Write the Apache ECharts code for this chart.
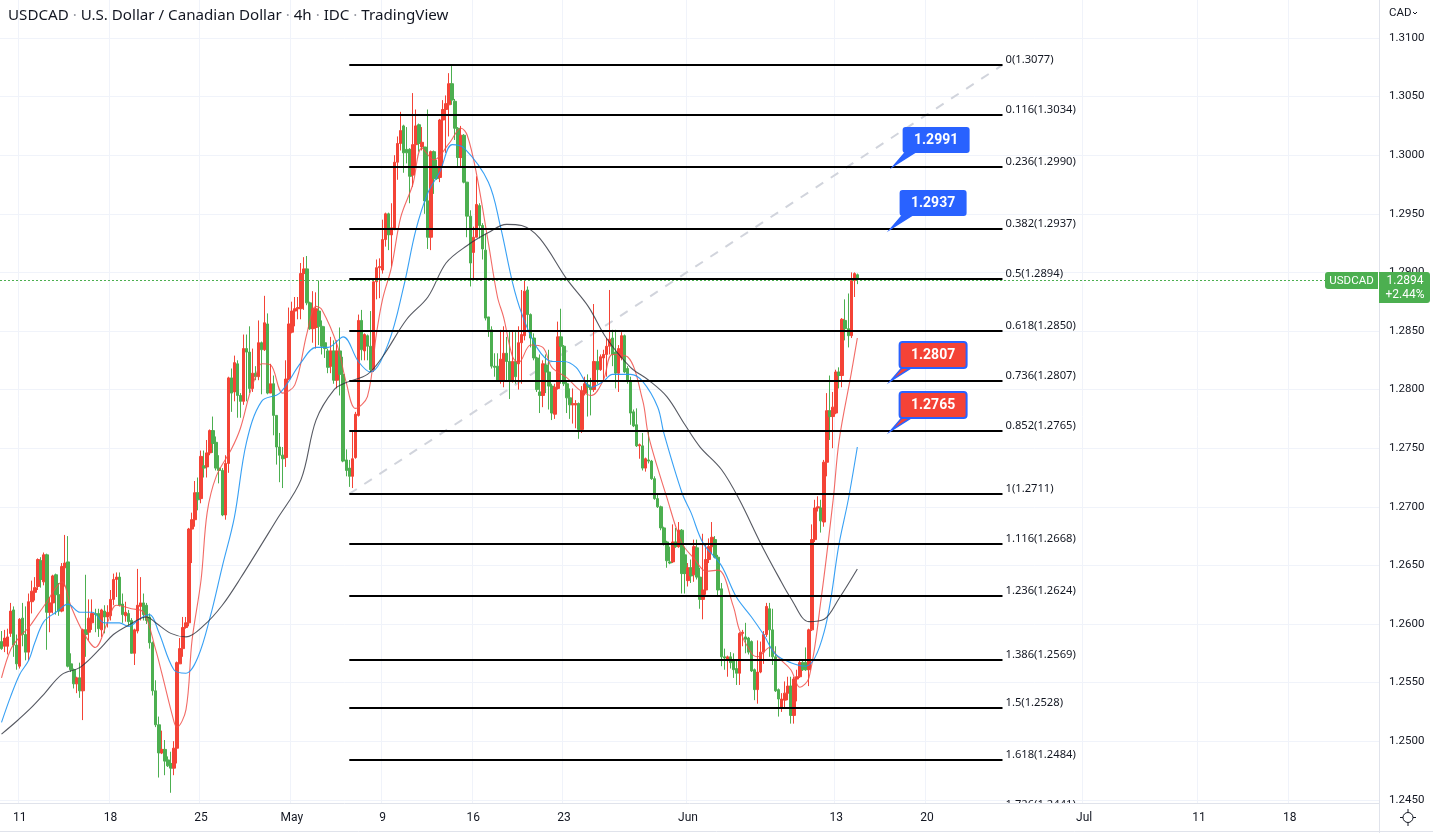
<!DOCTYPE html>
<html><head><meta charset="utf-8">
<style>html,body{margin:0;padding:0;background:#fff}#c{width:1433px;height:833px}</style>
<script src="https://cdn.jsdelivr.net/npm/echarts@6/dist/echarts.min.js"></script>
</head><body><div id="c"></div>
<script>
const opens=[1.2585,1.2581,1.2581,1.2592,1.2612,1.2582,1.2564,1.2605,1.2591,1.2576,
1.2619,1.2627,1.2632,1.2654,1.2636,1.2659,1.2610,1.2618,1.2642,1.2625,
1.2611,1.2648,1.2653,1.2566,1.2561,1.2549,1.2554,1.2543,1.2595,1.2593,
1.2601,1.2609,1.2609,1.2595,1.2611,1.2606,1.2607,1.2621,1.2638,1.2640,
1.2617,1.2607,1.2609,1.2603,1.2575,1.2594,1.2615,1.2618,1.2616,1.2606,
1.2584,1.2543,1.2514,1.2490,1.2493,1.2484,1.2481,1.2477,1.2494,1.2566,
1.2579,1.2597,1.2601,1.2681,1.2689,1.2712,1.2707,1.2735,1.2734,1.2746,
1.2765,1.2755,1.2733,1.2731,1.2693,1.2737,1.2810,1.2798,1.2822,1.2795,
1.2790,1.2835,1.2832,1.2801,1.2814,1.2811,1.2840,1.2834,1.2856,1.2797,
1.2805,1.2778,1.2751,1.2744,1.2742,1.2809,1.2849,1.2867,1.2869,1.2869,
1.2899,1.2903,1.2874,1.2852,1.2853,1.2867,1.2854,1.2840,1.2833,1.2820,
1.2833,1.2808,1.2833,1.2813,1.2740,1.2733,1.2726,1.2742,1.2778,1.2859,
1.2833,1.2846,1.2837,1.2817,1.2892,1.2904,1.2902,1.2928,1.2950,1.2932,
1.2937,1.2994,1.3010,1.3025,1.3005,1.3005,1.2983,1.3009,1.3026,1.3007,
1.3007,1.2961,1.2930,1.3003,1.2989,1.2981,1.3030,1.3039,1.3043,1.3061,
1.3046,1.3023,1.2998,1.3017,1.2977,1.2948,1.2917,1.2930,1.2957,1.2940,
1.2919,1.2862,1.2851,1.2820,1.2820,1.2807,1.2808,1.2831,1.2824,1.2807,
1.2824,1.2822,1.2840,1.2846,1.2885,1.2864,1.2844,1.2827,1.2798,1.2795,
1.2821,1.2815,1.2803,1.2779,1.2801,1.2845,1.2837,1.2805,1.2793,1.2787,
1.2787,1.2788,1.2766,1.2797,1.2804,1.2802,1.2800,1.2824,1.2817,1.2827,
1.2830,1.2837,1.2844,1.2832,1.2814,1.2827,1.2846,1.2818,1.2807,1.2781,
1.2770,1.2752,1.2752,1.2733,1.2740,1.2739,1.2724,1.2707,1.2700,1.2682,
1.2670,1.2653,1.2653,1.2670,1.2666,1.2680,1.2659,1.2637,1.2648,1.2642,
1.2665,1.2640,1.2621,1.2629,1.2655,1.2666,1.2672,1.2657,1.2630,1.2572,
1.2569,1.2572,1.2569,1.2562,1.2558,1.2592,1.2589,1.2588,1.2585,1.2561,
1.2544,1.2559,1.2576,1.2591,1.2613,1.2595,1.2572,1.2544,1.2528,1.2535,
1.2541,1.2547,1.2522,1.2553,1.2555,1.2567,1.2567,1.2561,1.2595,1.2672,
1.2699,1.2699,1.2687,1.2738,1.2782,1.2777,1.2780,1.2815,1.2812,1.2859,
1.2852,1.2846,1.2893,1.2898];
const closes=[1.2579,1.2588,1.2589,1.2611,1.2582,1.2566,1.2604,1.2591,1.2576,1.2619,
1.2628,1.2631,1.2655,1.2638,1.2659,1.2610,1.2618,1.2641,1.2625,1.2611,
1.2649,1.2652,1.2564,1.2561,1.2549,1.2554,1.2543,1.2595,1.2591,1.2605,
1.2609,1.2608,1.2596,1.2612,1.2606,1.2610,1.2621,1.2638,1.2640,1.2616,
1.2608,1.2610,1.2602,1.2575,1.2595,1.2616,1.2618,1.2608,1.2603,1.2584,
1.2543,1.2514,1.2490,1.2493,1.2483,1.2479,1.2477,1.2494,1.2567,1.2579,
1.2597,1.2601,1.2681,1.2689,1.2712,1.2706,1.2743,1.2733,1.2746,1.2765,
1.2754,1.2733,1.2731,1.2693,1.2737,1.2810,1.2797,1.2823,1.2795,1.2790,
1.2835,1.2832,1.2801,1.2814,1.2811,1.2840,1.2834,1.2857,1.2797,1.2805,
1.2778,1.2751,1.2744,1.2741,1.2809,1.2856,1.2867,1.2869,1.2870,1.2899,
1.2903,1.2874,1.2852,1.2869,1.2869,1.2854,1.2837,1.2835,1.2819,1.2833,
1.2808,1.2833,1.2813,1.2739,1.2731,1.2726,1.2741,1.2779,1.2859,1.2834,
1.2847,1.2837,1.2817,1.2892,1.2904,1.2905,1.2928,1.2950,1.2932,1.2938,
1.2994,1.3010,1.3021,1.3002,1.3002,1.2982,1.3009,1.3025,1.3010,1.3011,
1.2961,1.2930,1.3003,1.2980,1.2980,1.3030,1.3039,1.3044,1.3061,1.3047,
1.3023,1.2998,1.3017,1.2977,1.2948,1.2908,1.2930,1.2958,1.2940,1.2920,
1.2861,1.2851,1.2820,1.2819,1.2807,1.2826,1.2831,1.2824,1.2807,1.2824,
1.2811,1.2840,1.2847,1.2884,1.2864,1.2844,1.2827,1.2800,1.2795,1.2822,
1.2815,1.2803,1.2780,1.2802,1.2845,1.2837,1.2805,1.2793,1.2787,1.2788,
1.2788,1.2766,1.2799,1.2805,1.2802,1.2800,1.2824,1.2817,1.2828,1.2830,
1.2837,1.2843,1.2830,1.2814,1.2835,1.2846,1.2815,1.2807,1.2780,1.2769,
1.2752,1.2753,1.2733,1.2741,1.2739,1.2724,1.2707,1.2700,1.2682,1.2669,
1.2654,1.2652,1.2670,1.2666,1.2680,1.2643,1.2643,1.2648,1.2641,1.2666,
1.2640,1.2621,1.2629,1.2655,1.2666,1.2674,1.2657,1.2629,1.2572,1.2571,
1.2572,1.2567,1.2561,1.2558,1.2592,1.2593,1.2587,1.2576,1.2560,1.2544,
1.2559,1.2576,1.2591,1.2615,1.2595,1.2572,1.2543,1.2536,1.2536,1.2541,
1.2547,1.2522,1.2553,1.2555,1.2567,1.2561,1.2561,1.2595,1.2672,1.2699,
1.2700,1.2688,1.2738,1.2782,1.2777,1.2785,1.2815,1.2812,1.2860,1.2852,
1.2846,1.2893,1.2899,1.2894];
const lows=[1.2578,1.2576,1.2574,1.2589,1.2572,1.2561,1.2562,1.2581,1.2569,1.2569,
1.2609,1.2620,1.2629,1.2631,1.2633,1.2578,1.2593,1.2609,1.2608,1.2607,
1.2610,1.2632,1.2563,1.2559,1.2545,1.2541,1.2537,1.2518,1.2572,1.2586,
1.2595,1.2593,1.2589,1.2589,1.2592,1.2597,1.2603,1.2616,1.2623,1.2615,
1.2601,1.2602,1.2599,1.2575,1.2565,1.2592,1.2603,1.2603,1.2600,1.2579,
1.2539,1.2512,1.2469,1.2489,1.2471,1.2478,1.2456,1.2471,1.2481,1.2566,
1.2572,1.2596,1.2598,1.2652,1.2683,1.2697,1.2703,1.2725,1.2725,1.2744,
1.2746,1.2731,1.2720,1.2692,1.2689,1.2729,1.2781,1.2790,1.2776,1.2776,
1.2787,1.2790,1.2797,1.2798,1.2808,1.2808,1.2796,1.2833,1.2796,1.2797,
1.2761,1.2736,1.2721,1.2716,1.2734,1.2808,1.2848,1.2854,1.2860,1.2860,
1.2868,1.2872,1.2851,1.2840,1.2835,1.2838,1.2830,1.2827,1.2814,1.2814,
1.2805,1.2801,1.2795,1.2738,1.2726,1.2717,1.2716,1.2741,1.2777,1.2825,
1.2825,1.2825,1.2815,1.2815,1.2877,1.2878,1.2899,1.2922,1.2919,1.2905,
1.2936,1.2979,1.3004,1.2985,1.2993,1.2959,1.2973,1.2990,1.3003,1.3004,
1.2950,1.2920,1.2919,1.2967,1.2979,1.2977,1.2990,1.3002,1.3016,1.3043,
1.3013,1.2990,1.2990,1.2976,1.2930,1.2888,1.2893,1.2930,1.2929,1.2911,
1.2859,1.2845,1.2818,1.2811,1.2807,1.2805,1.2802,1.2807,1.2792,1.2806,
1.2805,1.2800,1.2805,1.2842,1.2851,1.2836,1.2825,1.2798,1.2780,1.2785,
1.2797,1.2783,1.2774,1.2775,1.2800,1.2805,1.2803,1.2780,1.2775,1.2771,
1.2767,1.2758,1.2763,1.2795,1.2777,1.2778,1.2798,1.2805,1.2816,1.2808,
1.2811,1.2830,1.2820,1.2801,1.2798,1.2825,1.2814,1.2805,1.2770,1.2768,
1.2751,1.2741,1.2731,1.2730,1.2737,1.2723,1.2706,1.2699,1.2680,1.2667,
1.2648,1.2651,1.2652,1.2665,1.2665,1.2626,1.2626,1.2632,1.2635,1.2636,
1.2638,1.2613,1.2604,1.2625,1.2652,1.2660,1.2656,1.2623,1.2564,1.2561,
1.2555,1.2562,1.2554,1.2548,1.2548,1.2581,1.2575,1.2574,1.2559,1.2535,
1.2532,1.2558,1.2566,1.2589,1.2572,1.2565,1.2542,1.2521,1.2525,1.2528,
1.2535,1.2515,1.2515,1.2534,1.2554,1.2560,1.2560,1.2547,1.2594,1.2670,
1.2696,1.2678,1.2683,1.2726,1.2757,1.2750,1.2779,1.2801,1.2802,1.2842,
1.2836,1.2844,1.2879,1.2890];
const highs=[1.2594,1.2595,1.2596,1.2618,1.2615,1.2591,1.2605,1.2618,1.2615,1.2626,
1.2637,1.2640,1.2656,1.2657,1.2661,1.2660,1.2623,1.2642,1.2643,1.2635,
1.2652,1.2676,1.2675,1.2575,1.2562,1.2555,1.2567,1.2596,1.2642,1.2621,
1.2621,1.2613,1.2613,1.2613,1.2616,1.2616,1.2629,1.2643,1.2644,1.2644,
1.2626,1.2619,1.2612,1.2605,1.2596,1.2647,1.2640,1.2626,1.2618,1.2609,
1.2585,1.2552,1.2521,1.2509,1.2501,1.2487,1.2491,1.2500,1.2568,1.2588,
1.2606,1.2606,1.2682,1.2695,1.2722,1.2725,1.2748,1.2748,1.2757,1.2766,
1.2777,1.2760,1.2744,1.2733,1.2744,1.2811,1.2818,1.2829,1.2825,1.2797,
1.2847,1.2847,1.2854,1.2835,1.2820,1.2859,1.2841,1.2880,1.2865,1.2822,
1.2812,1.2778,1.2763,1.2751,1.2825,1.2870,1.2875,1.2879,1.2879,1.2908,
1.2913,1.2914,1.2875,1.2884,1.2883,1.2893,1.2859,1.2854,1.2835,1.2845,
1.2842,1.2842,1.2853,1.2828,1.2749,1.2740,1.2764,1.2781,1.2864,1.2868,
1.2848,1.2847,1.2867,1.2895,1.2911,1.2912,1.2945,1.2951,1.2951,1.2959,
1.3000,1.3016,1.3037,1.3026,1.3024,1.3006,1.3053,1.3039,1.3027,1.3024,
1.3007,1.3039,1.3004,1.3004,1.2996,1.3031,1.3047,1.3051,1.3070,1.3077,
1.3048,1.3024,1.3025,1.3018,1.2977,1.2953,1.2939,1.2982,1.2959,1.2942,
1.2933,1.2862,1.2854,1.2831,1.2831,1.2851,1.2854,1.2845,1.2850,1.2850,
1.2849,1.2854,1.2885,1.2895,1.2888,1.2865,1.2848,1.2828,1.2830,1.2825,
1.2830,1.2834,1.2805,1.2805,1.2858,1.2869,1.2838,1.2808,1.2801,1.2801,
1.2791,1.2789,1.2803,1.2811,1.2813,1.2810,1.2873,1.2834,1.2830,1.2834,
1.2844,1.2885,1.2851,1.2851,1.2838,1.2849,1.2847,1.2820,1.2811,1.2783,
1.2784,1.2754,1.2763,1.2742,1.2765,1.2740,1.2726,1.2711,1.2701,1.2683,
1.2671,1.2666,1.2685,1.2682,1.2687,1.2681,1.2666,1.2652,1.2655,1.2672,
1.2672,1.2648,1.2677,1.2669,1.2673,1.2687,1.2675,1.2659,1.2635,1.2579,
1.2573,1.2576,1.2575,1.2569,1.2593,1.2595,1.2601,1.2589,1.2586,1.2562,
1.2586,1.2585,1.2594,1.2618,1.2618,1.2613,1.2581,1.2545,1.2541,1.2551,
1.2555,1.2555,1.2555,1.2561,1.2569,1.2569,1.2580,1.2596,1.2685,1.2706,
1.2709,1.2706,1.2740,1.2797,1.2812,1.2798,1.2817,1.2819,1.2861,1.2877,
1.2882,1.2900,1.2900,1.2899];

const redBars=[0,3,6,9,12,15,18,20,23,27,31,35,38,43,47,51,53,57,58,61,63,66,68,71,76,79,82,84,86,89,93,97,101,104,106,111,114,117,121,124,126,129,132,136,139,143,148,152,154,157,161,164,166,169,171,175,179,182,187,191,195,199,202,207,212,214,220,225,229,233,237,242,244,248,250,254,257,261,264,267,271,275,277,281,283];
const redValues=[1.2554,1.2578,1.2589,1.2597,1.2608,1.2619,1.2631,1.2636,1.2615,1.2593,1.2580,1.2601,1.2616,1.2613,1.2610,1.2578,1.2558,1.2517,1.2512,1.2527,1.2586,1.2638,1.2695,1.2726,1.2749,1.2767,1.2796,1.2811,1.2822,1.2821,1.2797,1.2804,1.2848,1.2871,1.2868,1.2838,1.2806,1.2784,1.2794,1.2848,1.2877,1.2905,1.2947,1.2975,1.3006,1.2996,1.3010,1.3023,1.3017,1.2985,1.2925,1.2879,1.2862,1.2828,1.2823,1.2838,1.2836,1.2819,1.2810,1.2800,1.2795,1.2808,1.2830,1.2828,1.2791,1.2760,1.2708,1.2669,1.2656,1.2645,1.2646,1.2615,1.2595,1.2575,1.2572,1.2580,1.2571,1.2561,1.2546,1.2554,1.2621,1.2706,1.2757,1.2814,1.2844];
const blueBars=[0,3,6,9,11,14,18,22,26,30,34,39,42,46,49,52,57,61,65,69,73,77,81,86,92,99,104,108,113,118,122,128,133,137,141,145,149,153,161,165,169,172,177,182,186,190,195,199,202,208,212,217,219,225,228,232,238,243,248,252,256,261,266,272,277,280,283];
const blueValues=[1.2516,1.2538,1.2557,1.2569,1.2584,1.2602,1.2610,1.2617,1.2610,1.2610,1.2601,1.2601,1.2598,1.2605,1.2608,1.2593,1.2561,1.2558,1.2572,1.2606,1.2649,1.2691,1.2755,1.2790,1.2797,1.2823,1.2836,1.2836,1.2845,1.2824,1.2815,1.2840,1.2888,1.2936,1.2968,1.2986,1.3009,1.3006,1.2977,1.2939,1.2891,1.2865,1.2836,1.2824,1.2824,1.2819,1.2802,1.2807,1.2813,1.2813,1.2807,1.2785,1.2763,1.2712,1.2695,1.2669,1.2650,1.2623,1.2606,1.2591,1.2574,1.2567,1.2564,1.2593,1.2669,1.2706,1.2751];
const blackBars=[0,5,10,14,20,26,33,37,42,48,51,56,61,67,73,79,91,99,104,110,114,121,126,134,141,147,154,161,167,172,178,187,194,200,208,214,220,226,231,238,244,251,257,261,267,272,277,283];
const blackValues=[1.2506,1.2517,1.2529,1.2540,1.2557,1.2563,1.2580,1.2591,1.2599,1.2606,1.2601,1.2592,1.2589,1.2599,1.2616,1.2639,1.2689,1.2723,1.2774,1.2800,1.2806,1.2813,1.2828,1.2860,1.2879,1.2908,1.2923,1.2934,1.2941,1.2940,1.2929,1.2894,1.2871,1.2844,1.2819,1.2808,1.2794,1.2770,1.2751,1.2732,1.2706,1.2669,1.2640,1.2622,1.2602,1.2604,1.2622,1.2647];

const fibRatios=['0','0.116','0.236','0.382','0.5','0.618','0.736','0.852','1','1.116','1.236','1.386','1.5','1.618','1.726'];
const fibPrices=[1.3077,1.3034,1.2990,1.2937,1.2894,1.2850,1.2807,1.2765,1.2711,1.2668,1.2624,1.2569,1.2528,1.2484,1.2441];
const fibBars=[115,331];
const trendPrices=[1.2711,1.3077];
const calloutBars=[295,294,294,294];
const calloutPrices=[1.2991,1.2937,1.2807,1.2765];
const calloutTexts=['1.2991','1.2937','1.2807','1.2765'];
const calloutKinds=[0,0,1,1];
const lastBar=283, lastPrice=1.2894, lastChange='+2.44%';
const tickBars=[6,36,66,96,126,156,186,227,276,306,358,396,426];
const tickLabels=['11','18','25','May','9','16','23','Jun','13','20','Jul','11','18'];
const slotCount=456;
const categories=Array.from({length:slotCount},(_,i)=>'bar'+i);

const RED='#f44336',GREEN='#4caf50',BLUE='#2962ff',INK='#131722',GRID='#f0f3fa',AXIS='#e0e3eb';
const FONT='"Noto Sans",sans-serif';
const pairs=(a,b)=>a.map((x,k)=>[x,b[k]]);
const tickFn=i=>tickBars.indexOf(i)>=0;
const maLine=(name,bars,vals,color,op)=>({type:'line',name,data:pairs(bars,vals),smooth:0.35,showSymbol:false,silent:true,z:4,
  lineStyle:{color,width:1.1,opacity:op}});

const chart=echarts.init(document.getElementById('c'),null,{width:1433,height:833});
chart.setOption({
  animation:false,backgroundColor:'#fff',
  title:{left:8,top:8,padding:0,text:'USDCAD {d|·} U.S. Dollar / Canadian Dollar {d|·} 4h {d|·} IDC {d|·} TradingView',
    textStyle:{color:INK,fontFamily:FONT,fontSize:15.15,fontWeight:'normal',rich:{d:{color:'#9598a1',fontFamily:FONT,fontSize:15.15}}}},
  grid:{left:0,width:1379,top:-79.2,height:937.6,containLabel:false,outerBoundsMode:'none'},
  xAxis:[
    {type:'category',data:categories,boundaryGap:true,position:'bottom',offset:-55.4,
      axisLine:{show:false},axisTick:{show:false},axisLabel:{show:false},
      splitLine:{show:true,interval:tickFn,lineStyle:{color:GRID,width:1}}},
    {type:'category',data:categories,boundaryGap:true,position:'bottom',offset:-55.4,z:30,
      axisLine:{show:true,lineStyle:{color:AXIS,width:1}},axisTick:{show:false},splitLine:{show:false},
      axisLabel:{show:true,interval:tickFn,hideOverlap:false,margin:9,color:INK,fontFamily:'Roboto',fontSize:12,
        formatter:(v,i)=>tickLabels[tickBars.indexOf(i)]}}
  ],
  yAxis:{type:'value',position:'right',min:1.24,max:1.32,interval:0.005,scale:true,
    axisLine:{show:true,lineStyle:{color:AXIS,width:1}},axisTick:{show:false},
    axisLabel:{margin:10,color:INK,fontFamily:'Roboto',fontSize:11.5,formatter:v=>v.toFixed(4)},
    splitLine:{show:true,lineStyle:{color:GRID,width:1}}},
  series:[
    {type:'line',name:'Fib trend',data:[[fibBars[0],trendPrices[0]],[fibBars[1],trendPrices[1]]],showSymbol:false,silent:true,z:2,
      lineStyle:{color:'#d1d4dc',width:2,type:[9,9]}},
    {type:'candlestick',name:'USDCAD',data:opens.map((o,i)=>[o,closes[i],lows[i],highs[i]]),barWidth:3,z:3,silent:true,
      itemStyle:{color:RED,color0:GREEN,borderColor:RED,borderColor0:GREEN,borderWidth:1}},
    maLine('MA fast',redBars,redValues,'#f0504a',0.85),
    maLine('MA mid',blueBars,blueValues,'#2196f3',0.9),
    maLine('MA slow',blackBars,blackValues,'#2a2e39',0.8),
    {type:'custom',name:'Fibonacci',z:6,silent:true,clip:false,
      data:fibPrices.map((p,k)=>[fibBars[0],p,fibBars[1],k]),
      encode:{x:[0,2],y:1},
      renderItem:(params,api)=>{
        const a=api.coord([api.value(0),api.value(1)]),b=api.coord([api.value(2),api.value(1)]);
        const y=Math.round(a[1]);
        const k=api.value(3);
        return {type:'group',children:[
          {type:'line',shape:{x1:a[0],y1:y,x2:b[0],y2:y},style:{stroke:'#000',lineWidth:2}},
          {type:'text',style:{x:b[0]+3,y:y-5.5,text:fibRatios[k]+'('+fibPrices[k].toFixed(4)+')',fill:INK,font:'11.2px '+FONT,align:'left',verticalAlign:'middle'}}
        ]};
      }},
    {type:'custom',name:'Callouts',z:8,silent:true,clip:false,
      data:calloutPrices.map((p,k)=>[calloutBars[k],p,k]),encode:{x:0,y:1},
      renderItem:(params,api)=>{
        const t=api.coord([api.value(0),api.value(1)]);
        const k=api.value(2),red=calloutKinds[k]===1,fill=red?RED:BLUE;
        const x=t[0],y=Math.round(t[1]);
        return {type:'group',children:[
          {type:'polygon',shape:{points:[[x,y],[x+12,y-14],[x+22,y-14]]},style:{fill:fill,stroke:BLUE,lineWidth:1.5}},
          {type:'rect',shape:{x:x+9,y:y-39,width:67,height:26,r:3},style:{fill:fill,stroke:red?BLUE:null,lineWidth:red?2:0}},
          {type:'text',style:{x:x+42.5,y:y-26,text:calloutTexts[k],fill:'#fff',font:'bold 14px Roboto',align:'center',verticalAlign:'middle'}}
        ]};
      }},
    {type:'custom',name:'Last price line',z:7,silent:true,clip:false,data:[[lastBar,lastPrice]],encode:{x:0,y:1},
      renderItem:(params,api)=>{
        const c=api.coord([api.value(0),api.value(1)]);const y=Math.round(c[1])+1.5;
        return {type:'line',shape:{x1:0,y1:y,x2:1325,y2:y},style:{stroke:GREEN,lineWidth:1,lineDash:[2,2]}};
      }},
    {type:'custom',name:'Last price tag',z:20,silent:true,clip:false,data:[[lastBar,lastPrice]],encode:{x:0,y:1},
      renderItem:(params,api)=>{
        const c=api.coord([api.value(0),api.value(1)]);const y=Math.round(c[1]);
        return {type:'group',children:[
          {type:'rect',shape:{x:1325,y:y-7,width:53,height:17,r:[3,0,0,3]},style:{fill:GREEN}},
          {type:'rect',shape:{x:1379,y:y-7,width:51,height:31,r:[0,3,3,0]},style:{fill:GREEN}},
          {type:'text',style:{x:1351.5,y:y+2,text:'USDCAD',fill:'#fff',font:'11.5px Roboto',align:'center',verticalAlign:'middle'}},
          {type:'text',style:{x:1405,y:y+2,text:lastPrice.toFixed(4),fill:'#fff',font:'12px Roboto',align:'center',verticalAlign:'middle'}},
          {type:'text',style:{x:1405,y:y+16,text:lastChange,fill:'#fff',font:'12px Roboto',align:'center',verticalAlign:'middle'}}
        ]};
      }}
  ],
  graphic:[
    {type:'rect',z:15,silent:true,shape:{x:0,y:803,width:1378.5,height:30},style:{fill:'#fff'}},
    {type:'rect',z:15,silent:true,shape:{x:1380,y:806,width:53,height:27},style:{fill:'#fff'}},
    {type:'rect',z:15,silent:true,shape:{x:1380,y:0,width:53,height:22},style:{fill:'#fff'}},
    {type:'line',z:16,silent:true,shape:{x1:0,y1:831.5,x2:1433,y2:831.5},style:{stroke:AXIS,lineWidth:1}},
    {type:'text',z:16,silent:true,style:{x:1389,y:13.5,text:'CAD',fill:INK,font:'11.5px Roboto',align:'left',verticalAlign:'middle'}},
    {type:'polyline',z:16,silent:true,shape:{points:[[1413,12],[1415,14],[1417,12]]},style:{stroke:INK,lineWidth:1,fill:null}},
    {type:'circle',z:16,silent:true,shape:{cx:1408,cy:817.5,r:5},style:{stroke:INK,lineWidth:1,fill:'#fff'}},
    {type:'line',z:16,silent:true,shape:{x1:1408,y1:809,x2:1408,y2:812},style:{stroke:INK,lineWidth:1}},
    {type:'line',z:16,silent:true,shape:{x1:1408,y1:823,x2:1408,y2:826},style:{stroke:INK,lineWidth:1}},
    {type:'line',z:16,silent:true,shape:{x1:1400,y1:817.5,x2:1403,y2:817.5},style:{stroke:INK,lineWidth:1}},
    {type:'line',z:16,silent:true,shape:{x1:1413,y1:817.5,x2:1416,y2:817.5},style:{stroke:INK,lineWidth:1}}
  ]
});
</script></body></html>
